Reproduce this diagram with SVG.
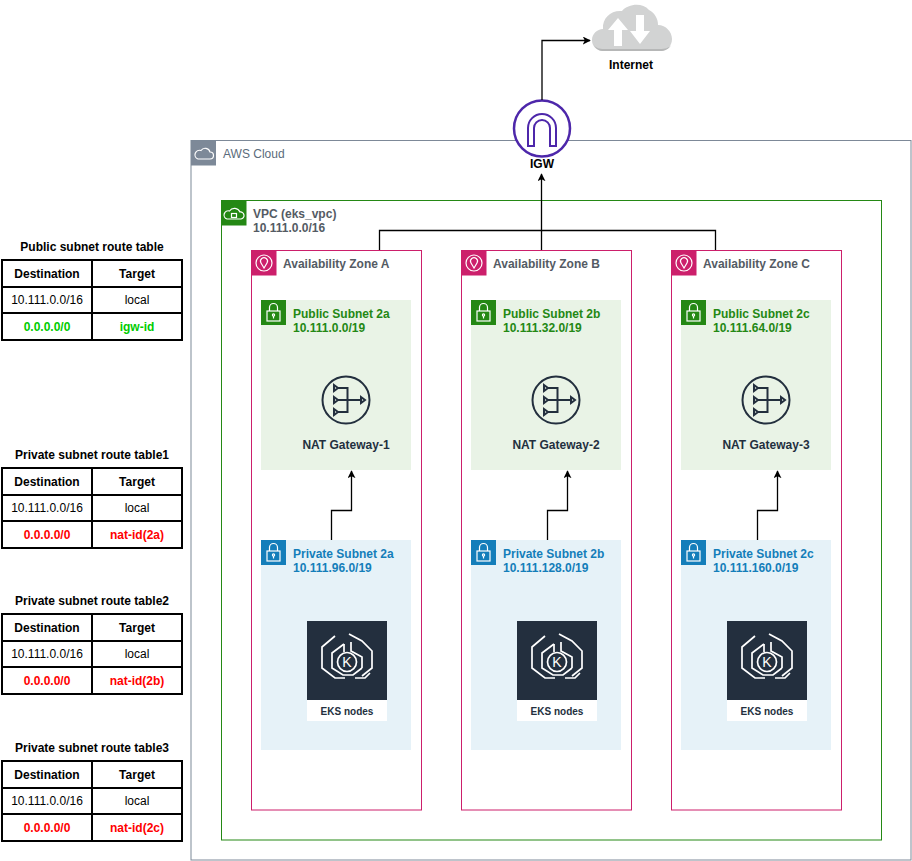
<svg xmlns="http://www.w3.org/2000/svg" xmlns:xlink="http://www.w3.org/1999/xlink" width="912" height="861" viewBox="0 0 912 861">
<style>
text{font-family:"Liberation Sans",Arial,sans-serif;font-size:12px}
.b{font-weight:bold}
.c{text-anchor:middle}
.grp{fill:#545B64;font-weight:bold}
.pub{fill:#248814;font-weight:bold}
.priv{fill:#147EBA;font-weight:bold}
.dark{fill:#232F3E;font-weight:bold}
.tbl{fill:#fff;stroke:#000;stroke-width:2}
.edge{fill:none;stroke:#000;stroke-width:1.3}
.g{fill:#00CC00;font-weight:bold}
.r{fill:#FF0000;font-weight:bold}
.ico{fill:none;stroke:#fff;stroke-width:1.2}
</style>
<defs>
<marker id="arr" viewBox="0 0 10 10" refX="9" refY="5" markerWidth="8" markerHeight="8" markerUnits="userSpaceOnUse" orient="auto">
<path d="M0,0 L10,5 L0,10 L2.5,5 Z" fill="#000"/>
</marker>
<symbol id="lock" viewBox="0 0 25 25" overflow="visible">
<rect x="6" y="11" width="13" height="10" class="ico"/>
<path d="M8.5,11 V7.5 A4,4 0 0 1 16.5,7.5 V11" class="ico"/>
<circle cx="12.5" cy="15" r="1.1" class="ico"/>
<path d="M12.5,16 V18.5" class="ico"/>
</symbol>
<symbol id="nat" viewBox="0 0 48 50" overflow="visible">
<circle cx="24" cy="25" r="23.5" fill="none" stroke="#232F3E" stroke-width="2"/>
<g fill="none" stroke="#232F3E" stroke-width="2">
<path d="M12,10 L16,13 L12,16 Z"/>
<path d="M12,22 L16,25 L12,28 Z"/>
<path d="M12,34 L16,37 L12,40 Z"/>
<path d="M16,13 H25.5 V37 H16 M16,25 H39"/>
<path d="M39,22 L43,25 L39,28 Z"/>
</g>
</symbol>
<symbol id="eks" viewBox="0 0 80 100" overflow="visible">
<rect x="0" y="0" width="80" height="79" fill="#232F3E"/>
<rect x="0" y="79" width="80" height="21" fill="#fff"/>
<g fill="none" stroke="#fff" stroke-width="1.7">
<path d="M28,15 L15,26 L15,47 L28,57 L38,57"/>
<path d="M42,13 L55,20 L65,30 L65,47 L55,55"/>
<path d="M37,23 L25,32 L25,47 L36,54 L46,54 L55,47"/>
<path d="M44,21 L44,30 L55,36 L55,47"/>
<path d="M37,23 L37,31"/>
<path d="M48,57 L58,57 L63,52"/>
<circle cx="40" cy="41" r="9.5"/>
</g>
<text x="40" y="46" class="c" style="fill:#fff;font-size:14px">K</text>
<text x="40" y="94" class="c dark" style="font-size:10px">EKS nodes</text>
</symbol>
</defs>

<g id="aws-cloud">
<rect x="191" y="140.5" width="720" height="719.5" fill="none" stroke="#7D8998" stroke-width="1"/>
<rect x="191" y="140.5" width="25" height="25" fill="#7D8998"/>
<path d="M198,159 H210 A3.5,3.5 0 0 0 210,152 A5,5 0 0 0 201,150.5 A4,4 0 0 0 198,159 Z" class="ico"/>
<text x="223" y="158" style="fill:#5A6B7B">AWS Cloud</text>
</g>

<g id="vpc">
<rect x="221.5" y="200.5" width="660" height="639.5" fill="none" stroke="#248814" stroke-width="1"/>
<rect x="221.5" y="200.5" width="25" height="25" fill="#248814"/>
<path d="M227,219 H241 A3.5,3.5 0 0 0 240,212 A6,6 0 0 0 229.5,211 A4,4 0 0 0 227,219 Z" class="ico"/>
<rect x="231.5" y="213.5" width="5" height="4" class="ico"/>
<text x="253" y="218" class="grp">VPC (eks_vpc)</text>
<text x="253" y="232" class="grp">10.111.0.0/16</text>
</g>

<g id="az-a">
<rect x="251.5" y="250.5" width="170" height="559.5" fill="none" stroke="#CC1F6B" stroke-width="1"/>
<rect x="251.5" y="250.5" width="25" height="25" fill="#CC1F6B"/>
<circle cx="264" cy="263" r="8" class="ico"/>
<path d="M264,268 L261,263 A3.5,3.5 0 1 1 267,263 Z" class="ico"/>
<text x="283" y="268" class="grp">Availability Zone A</text>
</g>
<g id="az-b">
<rect x="461.5" y="250.5" width="170" height="559.5" fill="none" stroke="#CC1F6B" stroke-width="1"/>
<rect x="461.5" y="250.5" width="25" height="25" fill="#CC1F6B"/>
<circle cx="474" cy="263" r="8" class="ico"/>
<path d="M474,268 L471,263 A3.5,3.5 0 1 1 477,263 Z" class="ico"/>
<text x="493" y="268" class="grp">Availability Zone B</text>
</g>
<g id="az-c">
<rect x="671.5" y="250.5" width="170" height="559.5" fill="none" stroke="#CC1F6B" stroke-width="1"/>
<rect x="671.5" y="250.5" width="25" height="25" fill="#CC1F6B"/>
<circle cx="684" cy="263" r="8" class="ico"/>
<path d="M684,268 L681,263 A3.5,3.5 0 1 1 687,263 Z" class="ico"/>
<text x="703" y="268" class="grp">Availability Zone C</text>
</g>

<g id="public-2a">
<rect x="261" y="300" width="150" height="170" fill="#E9F3E6"/>
<rect x="261" y="300" width="25" height="25" fill="#248814"/>
<use href="#lock" x="261" y="300" width="25" height="25"/>
<text x="293" y="318" class="pub">Public Subnet 2a</text>
<text x="293" y="332" class="pub">10.111.0.0/19</text>
</g>
<g id="public-2b">
<rect x="471" y="300" width="150" height="170" fill="#E9F3E6"/>
<rect x="471" y="300" width="25" height="25" fill="#248814"/>
<use href="#lock" x="471" y="300" width="25" height="25"/>
<text x="503" y="318" class="pub">Public Subnet 2b</text>
<text x="503" y="332" class="pub">10.111.32.0/19</text>
</g>
<g id="public-2c">
<rect x="681" y="300" width="150" height="170" fill="#E9F3E6"/>
<rect x="681" y="300" width="25" height="25" fill="#248814"/>
<use href="#lock" x="681" y="300" width="25" height="25"/>
<text x="713" y="318" class="pub">Public Subnet 2c</text>
<text x="713" y="332" class="pub">10.111.64.0/19</text>
</g>

<g id="private-2a">
<rect x="261" y="540" width="150" height="210" fill="#E6F2F8"/>
<rect x="261" y="540" width="25" height="25" fill="#147EBA"/>
<use href="#lock" x="261" y="540" width="25" height="25"/>
<text x="293" y="558" class="priv">Private Subnet 2a</text>
<text x="293" y="572" class="priv">10.111.96.0/19</text>
</g>
<g id="private-2b">
<rect x="471" y="540" width="150" height="210" fill="#E6F2F8"/>
<rect x="471" y="540" width="25" height="25" fill="#147EBA"/>
<use href="#lock" x="471" y="540" width="25" height="25"/>
<text x="503" y="558" class="priv">Private Subnet 2b</text>
<text x="503" y="572" class="priv">10.111.128.0/19</text>
</g>
<g id="private-2c">
<rect x="681" y="540" width="150" height="210" fill="#E6F2F8"/>
<rect x="681" y="540" width="25" height="25" fill="#147EBA"/>
<use href="#lock" x="681" y="540" width="25" height="25"/>
<text x="713" y="558" class="priv">Private Subnet 2c</text>
<text x="713" y="572" class="priv">10.111.160.0/19</text>
</g>

<g id="nat-1">
<use href="#nat" x="322" y="375" width="48" height="50"/>
<text x="346" y="449" class="c dark">NAT Gateway-1</text>
</g>
<g id="nat-2">
<use href="#nat" x="532" y="375" width="48" height="50"/>
<text x="556" y="449" class="c dark">NAT Gateway-2</text>
</g>
<g id="nat-3">
<use href="#nat" x="742" y="375" width="48" height="50"/>
<text x="766" y="449" class="c dark">NAT Gateway-3</text>
</g>

<g id="eks-a"><use href="#eks" x="307" y="621" width="80" height="100"/></g>
<g id="eks-b"><use href="#eks" x="517" y="621" width="80" height="100"/></g>
<g id="eks-c"><use href="#eks" x="727" y="621" width="80" height="100"/></g>

<g id="igw">
<circle cx="542" cy="128.5" r="28" fill="#fff" stroke="#4D27AA" stroke-width="2.5"/>
<path d="M528,146 V128 A14,14 0 0 1 556,128 V146 H550 V128 A8,8 0 0 0 534,128 V146 Z" fill="none" stroke="#4D27AA" stroke-width="2"/>
<text x="542" y="168" class="c b">IGW</text>
</g>

<g id="internet">
<path d="M604,51 C596,51 592,46 592,40 C592,34 597,29 603,29 C602,18 611,10 622,11 C628,4 642,2 649,10 C655,13 658,19 658,25 C666,25 672,32 672,39 C672,46 667,51 660,51 Z" fill="#D2D3D3"/>
<path d="M594,45 C596,49 599,51 604,51 H660 C665,51 669,49 671,45 C669,48 665,49 660,49 H604 C599,49 596,48 594,45 Z" fill="#B6B7B7"/>
<polygon points="618,18 628,30 622,30 622,46 614,46 614,30 608,30" fill="#fff"/>
<polygon points="636,15 644,15 644,31 650,31 640,44 630,31 636,31" fill="#fff"/>
<text x="631" y="69" class="c b">Internet</text>
</g>

<g id="connectors">
<path d="M542,100 V40.5 H590" class="edge" marker-end="url(#arr)"/>
<path d="M379.5,250 V230.5 H541.5 V174" class="edge" marker-end="url(#arr)"/>
<path d="M715.5,250 V230.5 H541.5" class="edge"/>
<path d="M541.5,250 V230.5" class="edge"/>
<path d="M331.5,540 V510.5 H351.5 V471" class="edge" marker-end="url(#arr)"/>
<path d="M547.5,540 V510.5 H567.5 V471" class="edge" marker-end="url(#arr)"/>
<path d="M757.5,540 V510.5 H777.5 V471" class="edge" marker-end="url(#arr)"/>
</g>

<g id="public-route-table">
<text x="92" y="251" class="c b">Public subnet route table</text>
<rect x="2" y="260" width="180" height="80" class="tbl"/>
<path d="M92,260 V340 M2,287 H182 M2,313 H182" stroke="#000" stroke-width="2"/>
<text x="47" y="278" class="c b">Destination</text>
<text x="137" y="278" class="c b">Target</text>
<text x="47" y="304" class="c">10.111.0.0/16</text>
<text x="137" y="304" class="c">local</text>
<text x="47" y="331" class="c g">0.0.0.0/0</text>
<text x="137" y="331" class="c g">igw-id</text>
</g>

<g id="private-route-table1">
<text x="92" y="459" class="c b">Private subnet route table1</text>
<rect x="2" y="468" width="180" height="80" class="tbl"/>
<path d="M92,468 V548 M2,495 H182 M2,521 H182" stroke="#000" stroke-width="2"/>
<text x="47" y="486" class="c b">Destination</text>
<text x="137" y="486" class="c b">Target</text>
<text x="47" y="512" class="c">10.111.0.0/16</text>
<text x="137" y="512" class="c">local</text>
<text x="47" y="539" class="c r">0.0.0.0/0</text>
<text x="137" y="539" class="c r">nat-id(2a)</text>
</g>

<g id="private-route-table2">
<text x="92" y="605" class="c b">Private subnet route table2</text>
<rect x="2" y="614" width="180" height="80" class="tbl"/>
<path d="M92,614 V694 M2,641 H182 M2,667 H182" stroke="#000" stroke-width="2"/>
<text x="47" y="632" class="c b">Destination</text>
<text x="137" y="632" class="c b">Target</text>
<text x="47" y="658" class="c">10.111.0.0/16</text>
<text x="137" y="658" class="c">local</text>
<text x="47" y="685" class="c r">0.0.0.0/0</text>
<text x="137" y="685" class="c r">nat-id(2b)</text>
</g>

<g id="private-route-table3">
<text x="92" y="752" class="c b">Private subnet route table3</text>
<rect x="2" y="761" width="180" height="80" class="tbl"/>
<path d="M92,761 V841 M2,788 H182 M2,814 H182" stroke="#000" stroke-width="2"/>
<text x="47" y="779" class="c b">Destination</text>
<text x="137" y="779" class="c b">Target</text>
<text x="47" y="805" class="c">10.111.0.0/16</text>
<text x="137" y="805" class="c">local</text>
<text x="47" y="832" class="c r">0.0.0.0/0</text>
<text x="137" y="832" class="c r">nat-id(2c)</text>
</g>
</svg>
